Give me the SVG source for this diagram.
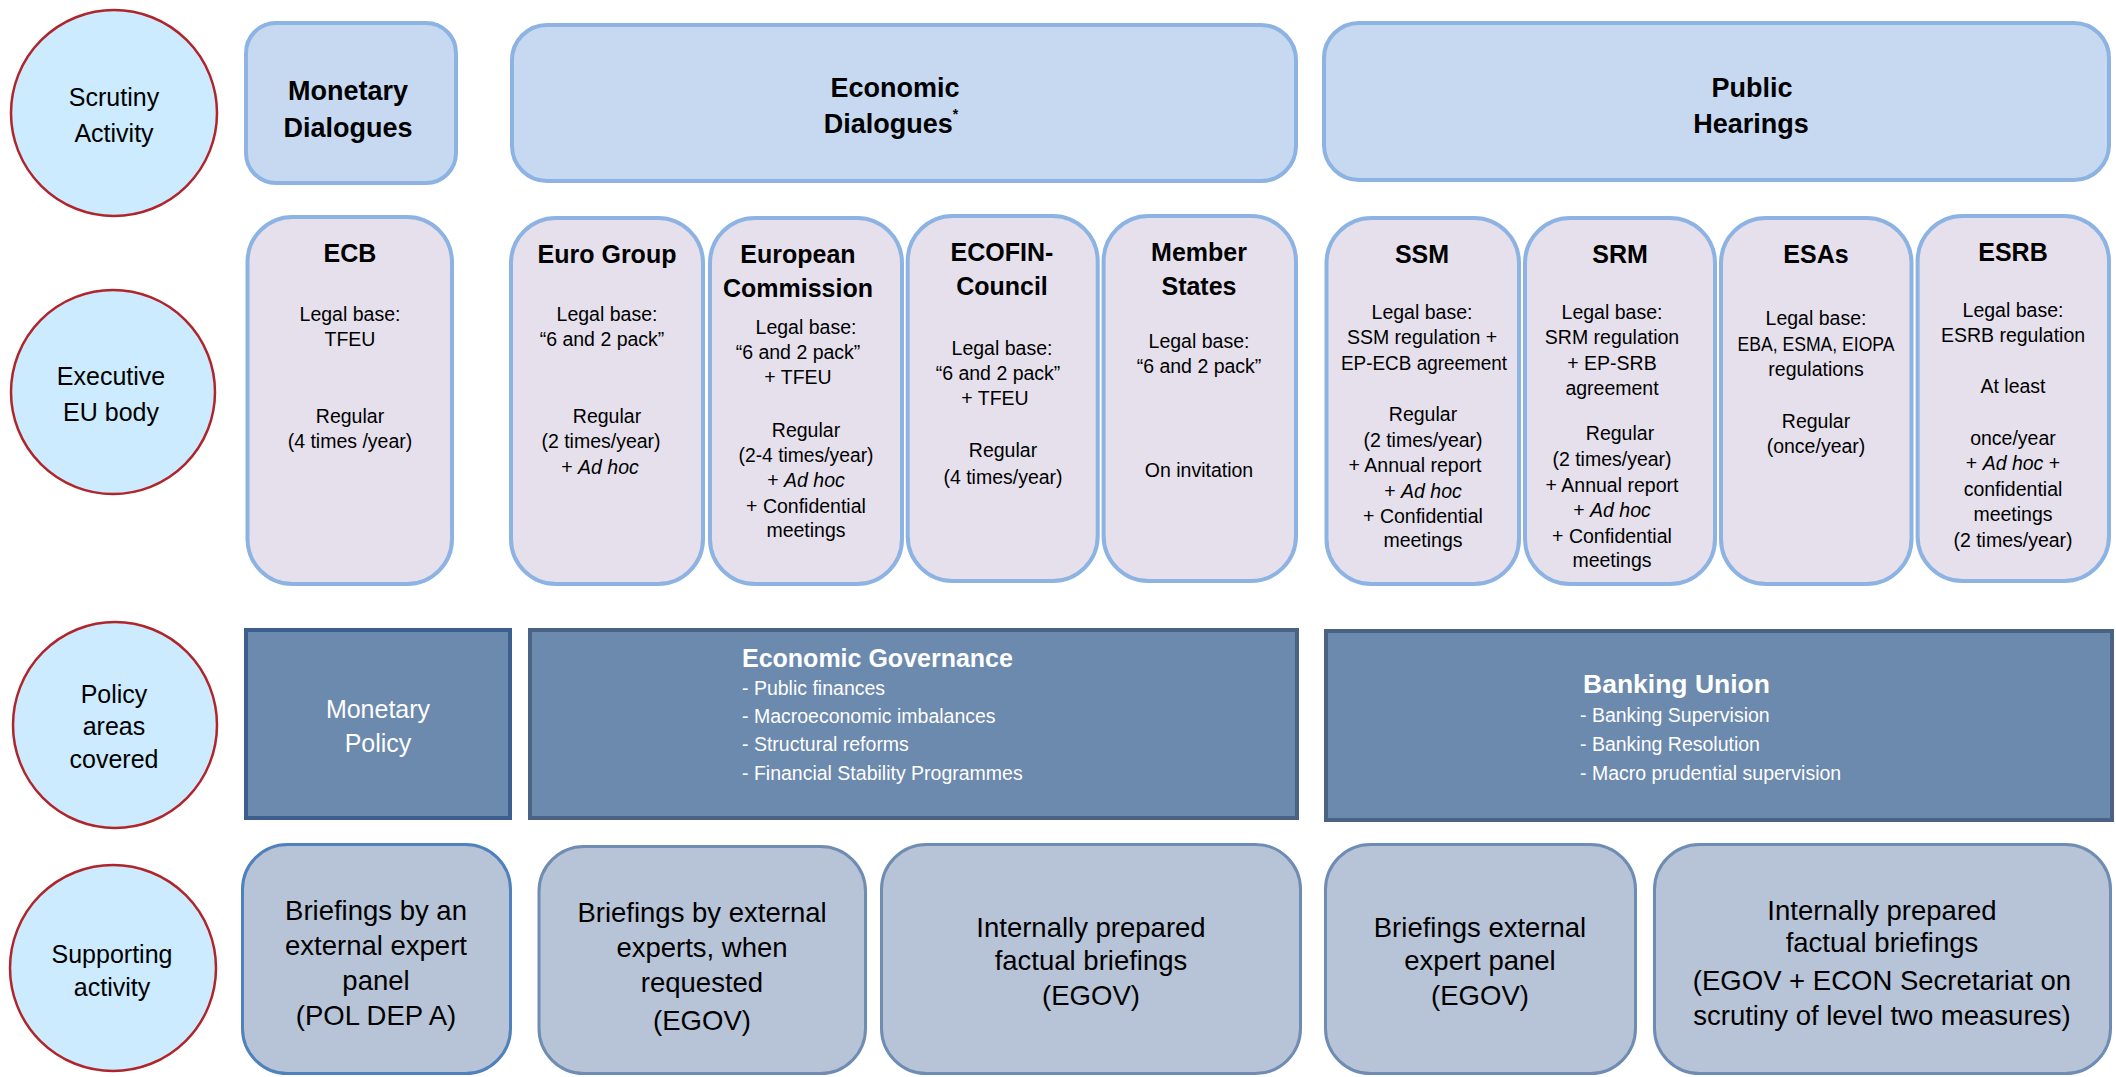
<svg xmlns="http://www.w3.org/2000/svg" width="2116" height="1077" viewBox="0 0 2116 1077">
<style>
text{font-family:"Liberation Sans",Arial,sans-serif;text-anchor:middle;fill:#000}
.circ{fill:#CCEBFF;stroke:#B0252B;stroke-width:2.5}
.ctxt{font-size:25px}
.top{fill:#C6D9F1;stroke:#8DB3E2;stroke-width:4}
.th{font-size:27px;font-weight:bold}
.exe{fill:#E5E0EC;stroke:#8DB3E2;stroke-width:4}
.eh{font-size:25px;font-weight:bold}
.eb{font-size:19.5px}
.pol{fill:#6C89AE;stroke:#4A6283;stroke-width:4}
.ptitle{font-size:25px;font-weight:bold;fill:#fff;text-anchor:start}
.pl{font-size:19.5px;fill:#fff;text-anchor:start}
.sup{fill:#B7C3D6;stroke:#6F8CB2;stroke-width:3}
.st{font-size:27.5px}
.it{font-style:italic}
</style>
<g id="connectors"/>

<g id="lbl-scrutiny">
<ellipse class="circ" cx="114" cy="113" rx="103" ry="103"/>
<text class="ctxt" x="114" y="106">Scrutiny</text>
<text class="ctxt" x="114" y="142">Activity</text>
</g>
<g id="lbl-executive">
<ellipse class="circ" cx="113" cy="392" rx="102" ry="102"/>
<text class="ctxt" x="111" y="385">Executive</text>
<text class="ctxt" x="111" y="421">EU body</text>
</g>
<g id="lbl-policy">
<ellipse class="circ" cx="115" cy="725" rx="102" ry="103"/>
<text class="ctxt" x="114" y="703">Policy</text>
<text class="ctxt" x="114" y="735">areas</text>
<text class="ctxt" x="114" y="768">covered</text>
</g>
<g id="lbl-supporting">
<ellipse class="circ" cx="113" cy="968" rx="103" ry="103"/>
<text class="ctxt" x="112" y="963">Supporting</text>
<text class="ctxt" x="112" y="996">activity</text>
</g>

<g id="monetary-dialogues">
<rect class="top" x="246" y="23" width="210" height="160" rx="30"/>
<text class="th" x="348" y="100">Monetary</text>
<text class="th" x="348" y="137">Dialogues</text>
</g>
<g id="economic-dialogues">
<rect class="top" x="512" y="25" width="784" height="156" rx="35"/>
<text class="th" x="895" y="97">Economic</text>
<text class="th" x="891" y="133">Dialogues<tspan font-size="14px" dy="-14">*</tspan></text>
</g>
<g id="public-hearings">
<rect class="top" x="1324" y="23" width="785" height="157" rx="35"/>
<text class="th" x="1752" y="97">Public</text>
<text class="th" x="1751" y="133">Hearings</text>
</g>

<g id="ecb">
<rect class="exe" x="247.5" y="217" width="204.5" height="367" rx="45"/>
<text class="eh" x="350" y="262">ECB</text>
<text class="eb" x="350" y="321">Legal base:</text>
<text class="eb" x="350" y="346">TFEU</text>
<text class="eb" x="350" y="423">Regular</text>
<text class="eb" x="350" y="448">(4 times /year)</text>
</g>
<g id="euro-group">
<rect class="exe" x="511" y="218" width="192" height="366" rx="45"/>
<text class="eh" x="607" y="263">Euro Group</text>
<text class="eb" x="607" y="321">Legal base:</text>
<text class="eb" x="602" y="346">“6 and 2 pack”</text>
<text class="eb" x="607" y="423">Regular</text>
<text class="eb" x="601" y="448">(2 times/year)</text>
<text class="eb" x="600" y="474">+ <tspan class="it">Ad hoc</tspan></text>
</g>
<g id="european-commission">
<rect class="exe" x="710" y="218" width="192" height="366" rx="45"/>
<text class="eh" x="798" y="263">European</text>
<text class="eh" x="798" y="297">Commission</text>
<text class="eb" x="806" y="334">Legal base:</text>
<text class="eb" x="798" y="359">“6 and 2 pack”</text>
<text class="eb" x="798" y="384">+ TFEU</text>
<text class="eb" x="806" y="437">Regular</text>
<text class="eb" x="806" y="462" textLength="135" lengthAdjust="spacingAndGlyphs">(2-4 times/year)</text>
<text class="eb" x="806" y="487">+ <tspan class="it">Ad hoc</tspan></text>
<text class="eb" x="806" y="513">+ Confidential</text>
<text class="eb" x="806" y="537">meetings</text>
</g>
<g id="ecofin-council">
<rect class="exe" x="907.7" y="216" width="190" height="365" rx="45"/>
<text class="eh" x="1002" y="261">ECOFIN-</text>
<text class="eh" x="1002" y="295">Council</text>
<text class="eb" x="1002" y="355">Legal base:</text>
<text class="eb" x="998" y="380">“6 and 2 pack”</text>
<text class="eb" x="995" y="405">+ TFEU</text>
<text class="eb" x="1003" y="457">Regular</text>
<text class="eb" x="1003" y="484">(4 times/year)</text>
</g>
<g id="member-states">
<rect class="exe" x="1103.6" y="216" width="192.4" height="365" rx="45"/>
<text class="eh" x="1199" y="261">Member</text>
<text class="eh" x="1199" y="295">States</text>
<text class="eb" x="1199" y="348">Legal base:</text>
<text class="eb" x="1199" y="373">“6 and 2 pack”</text>
<text class="eb" x="1199" y="477">On invitation</text>
</g>
<g id="ssm">
<rect class="exe" x="1326.5" y="218" width="192.5" height="366" rx="45"/>
<text class="eh" x="1422" y="263">SSM</text>
<text class="eb" x="1422" y="319">Legal base:</text>
<text class="eb" x="1422" y="344">SSM regulation +</text>
<text class="eb" x="1424" y="370" textLength="166" lengthAdjust="spacingAndGlyphs">EP-ECB agreement</text>
<text class="eb" x="1423" y="421">Regular</text>
<text class="eb" x="1423" y="447">(2 times/year)</text>
<text class="eb" x="1415" y="472">+ Annual report</text>
<text class="eb" x="1423" y="498">+ <tspan class="it">Ad hoc</tspan></text>
<text class="eb" x="1423" y="523">+ Confidential</text>
<text class="eb" x="1423" y="547">meetings</text>
</g>
<g id="srm">
<rect class="exe" x="1525" y="218" width="190" height="366" rx="45"/>
<text class="eh" x="1620" y="263">SRM</text>
<text class="eb" x="1612" y="319">Legal base:</text>
<text class="eb" x="1612" y="344">SRM regulation</text>
<text class="eb" x="1612" y="370">+ EP-SRB</text>
<text class="eb" x="1612" y="395">agreement</text>
<text class="eb" x="1620" y="440">Regular</text>
<text class="eb" x="1612" y="466">(2 times/year)</text>
<text class="eb" x="1612" y="492">+ Annual report</text>
<text class="eb" x="1612" y="517">+ <tspan class="it">Ad hoc</tspan></text>
<text class="eb" x="1612" y="543">+ Confidential</text>
<text class="eb" x="1612" y="567">meetings</text>
</g>
<g id="esas">
<rect class="exe" x="1721" y="218" width="190.5" height="366" rx="45"/>
<text class="eh" x="1816" y="263">ESAs</text>
<text class="eb" x="1816" y="325">Legal base:</text>
<text class="eb" x="1816" y="351" textLength="157" lengthAdjust="spacingAndGlyphs">EBA, ESMA, EIOPA</text>
<text class="eb" x="1816" y="376">regulations</text>
<text class="eb" x="1816" y="428">Regular</text>
<text class="eb" x="1816" y="453">(once/year)</text>
</g>
<g id="esrb">
<rect class="exe" x="1917.6" y="216" width="191.4" height="365" rx="45"/>
<text class="eh" x="2013" y="261">ESRB</text>
<text class="eb" x="2013" y="317">Legal base:</text>
<text class="eb" x="2013" y="342">ESRB regulation</text>
<text class="eb" x="2013" y="393">At least</text>
<text class="eb" x="2013" y="445">once/year</text>
<text class="eb" x="2013" y="470">+ <tspan class="it">Ad hoc</tspan> +</text>
<text class="eb" x="2013" y="496">confidential</text>
<text class="eb" x="2013" y="521">meetings</text>
<text class="eb" x="2013" y="547">(2 times/year)</text>
</g>

<g id="monetary-policy">
<rect class="pol" x="246" y="630" width="264" height="188" style="stroke:#3D5F8D"/>
<text font-size="25px" x="378" y="718" style="fill:#fff">Monetary</text>
<text font-size="25px" x="378" y="752" style="fill:#fff">Policy</text>
</g>
<g id="economic-governance">
<rect class="pol" x="530" y="630" width="767" height="188"/>
<text class="ptitle" x="742" y="667">Economic Governance</text>
<text class="pl" x="742" y="695">- Public finances</text>
<text class="pl" x="742" y="723">- Macroeconomic  imbalances</text>
<text class="pl" x="742" y="751">- Structural reforms</text>
<text class="pl" x="742" y="780">- Financial Stability Programmes</text>
</g>
<g id="banking-union">
<rect class="pol" x="1326" y="631" width="786" height="189"/>
<text class="ptitle" x="1583" y="693" style="font-size:26.5px">Banking Union</text>
<text class="pl" x="1580" y="722">- Banking Supervision</text>
<text class="pl" x="1580" y="751">- Banking Resolution</text>
<text class="pl" x="1580" y="780">- Macro prudential supervision</text>
</g>

<g id="briefings-expert-panel">
<rect class="sup" x="242.5" y="844.5" width="268" height="229" rx="45" style="stroke:#4F81BD"/>
<text class="st" x="376" y="920">Briefings by an</text>
<text class="st" x="376" y="955">external expert</text>
<text class="st" x="376" y="990">panel</text>
<text class="st" x="376" y="1025">(POL DEP A)</text>
</g>
<g id="briefings-external-experts">
<rect class="sup" x="539" y="846.5" width="326.5" height="227" rx="45"/>
<text class="st" x="702" y="922">Briefings by external</text>
<text class="st" x="702" y="957">experts, when</text>
<text class="st" x="702" y="992">requested</text>
<text class="st" x="702" y="1030">(EGOV)</text>
</g>
<g id="internal-briefings-egov">
<rect class="sup" x="881.5" y="844.5" width="419" height="229" rx="45"/>
<text class="st" x="1091" y="937">Internally prepared</text>
<text class="st" x="1091" y="970">factual briefings</text>
<text class="st" x="1091" y="1005">(EGOV)</text>
</g>
<g id="briefings-external-panel">
<rect class="sup" x="1325.5" y="844.5" width="310" height="229" rx="45"/>
<text class="st" x="1480" y="937">Briefings external</text>
<text class="st" x="1480" y="970">expert panel</text>
<text class="st" x="1480" y="1005">(EGOV)</text>
</g>
<g id="internal-briefings-secretariat">
<rect class="sup" x="1654.5" y="844.5" width="456" height="229" rx="45"/>
<text class="st" x="1882" y="920">Internally prepared</text>
<text class="st" x="1882" y="952">factual briefings</text>
<text class="st" x="1882" y="990">(EGOV + ECON Secretariat on</text>
<text class="st" x="1882" y="1025">scrutiny of level two measures)</text>
</g>
</svg>
